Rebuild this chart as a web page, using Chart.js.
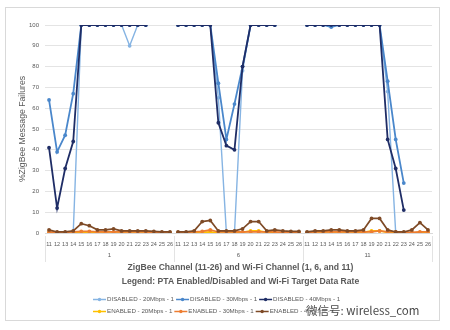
<!DOCTYPE html>
<html>
<head>
<meta charset="utf-8">
<script src="https://cdn.jsdelivr.net/npm/chart.js@4.4.0/dist/chart.umd.min.js"></script>
<style>
  html, body { margin: 0; padding: 0; background: #fff; }
  #wrap { position: relative; width: 450px; height: 330px; }
  #mark { position: absolute; left: 306px; top: 302px; font: 11.5px "Noto Sans CJK SC", sans-serif; color: #4a4a4a; text-shadow: 0 0 2px #fff, 0 0 2px #fff; }
</style>
</head>
<body>
<div id="wrap">
  <canvas id="chart" width="450" height="330"></canvas>
  <div id="mark">微信号: wireless_com</div>
</div>
<script>
// ZigBee channels repeated under each Wi-Fi channel
const channels = ['11','12','13','14','15','16','17','18','19','20','21','22','23','24','25','26'];
const wifiChannels = ['1', '6', '11'];

const disabled20 = [
  0, 0, 0, 0, 100, 100, 100, 100, 100, 100, 90, 100, 100, null, null, null,
  100, 100, 100, 100, 100, 65, 0, 0, 78, 100, 100, 100, 100, null, null, null,
  100, 100, 100, 100, 100, 100, 100, 100, 100, 100, 68, 0, 0, null, null, null
];
const disabled30 = [
  64, 39, 47, 67, 100, 100, 100, 100, 100, 100, 100, 100, 100, null, null, null,
  100, 100, 100, 100, 100, 72, 45, 62, 80, 100, 100, 100, 100, null, null, null,
  100, 100, 100, 99, 100, 100, 100, 100, 100, 100, 73, 45, 24, null, null, null
];
const disabled40 = [
  41, 12, 31, 44, 100, 100, 100, 100, 100, 100, 100, 100, 100, null, null, null,
  100, 100, 100, 100, 100, 53, 42, 40, 80, 100, 100, 100, 100, null, null, null,
  100, 100, 100, 100, 100, 100, 100, 100, 100, 100, 45, 31, 11, null, null, null
];
const enabled20 = [
  0, 0, 0, 0, 0.3, 0.3, 0, 0, 0, 0, 0, 0, 0, 0, 0, 0,
  0, 0, 0, 0.3, 0.5, 0, 0, 0, 0.3, 1, 1, 0.3, 0, 0, 0, 0,
  0, 0, 0, 0, 0, 0, 0, 0.3, 1, 1, 0.3, 0, 0, 0, 0.3, 0.3
];
const enabled30 = [
  0.5, 0.3, 0.3, 0.5, 0.8, 0.8, 0.5, 0.5, 0.5, 0.5, 0.5, 0.5, 0.5, 0.3, 0.3, 0.3,
  0.3, 0.3, 0.5, 0.8, 1.5, 0.5, 0.5, 0.5, 0.5, 0.5, 0.5, 0.5, 0.5, 0.3, 0.3, 0.3,
  0.3, 0.5, 0.5, 0.5, 0.5, 0.5, 0.5, 0.5, 0.5, 1, 0.5, 0.5, 0.3, 0.3, 0.5, 0.5
];
const enabled40 = [
  1.5, 0.5, 0.5, 1, 4.5, 3.5, 1.5, 1.5, 2, 1, 1, 1, 1, 0.8, 0.5, 0.5,
  0.5, 0.5, 1, 5.5, 6, 1, 1, 1, 2, 5.5, 5.5, 1, 1.5, 1, 0.8, 0.8,
  0.5, 1, 1, 1.5, 1.5, 1, 1, 1.5, 7, 7, 1.5, 0.5, 0.5, 1.5, 5, 1.5
];

const labels = wifiChannels.flatMap(() => channels);

const series = [
  { label: 'DISABLED - 20Mbps - 1', data: disabled20, color: '#86b4e3', width: 1.4 },
  { label: 'DISABLED - 30Mbps - 1', data: disabled30, color: '#4a87cb', width: 1.8 },
  { label: 'DISABLED - 40Mbps - 1', data: disabled40, color: '#1f2d66', width: 1.8 },
  { label: 'ENABLED - 20Mbps - 1', data: enabled20, color: '#ffc000', width: 1.7 },
  { label: 'ENABLED - 30Mbps - 1', data: enabled30, color: '#ed7d31', width: 1.7 },
  { label: 'ENABLED - 40Mbps - 1', data: enabled40, color: '#7e4a26', width: 1.7 }
];

const FONT = '"Liberation Sans", Arial, sans-serif';
const TEXT = '#595959';

// lines stop at the end of each Wi-Fi channel group
const groupBreak = ctx => (ctx.p0DataIndex % channels.length === channels.length - 1 ? 'rgba(0,0,0,0)' : undefined);

const decor = {
  id: 'decor',
  afterDraw(chart) {
    const { ctx, scales: { x } } = chart;
    ctx.save();

    // outer frame
    ctx.strokeStyle = '#d9d9d9';
    ctx.lineWidth = 1;
    ctx.strokeRect(5.5, 7.5, 434, 313);

    // group separators and Wi-Fi channel labels
    const step = x.width / labels.length;
    ctx.strokeStyle = '#e3e3e3';
    for (let g = 0; g <= wifiChannels.length; g++) {
      const px = Math.round(x.left + g * channels.length * step) + 0.5;
      ctx.beginPath();
      ctx.moveTo(px, 236);
      ctx.lineTo(px, 262);
      ctx.stroke();
    }
    ctx.fillStyle = TEXT;
    ctx.font = '6px ' + FONT;
    ctx.textAlign = 'center';
    ctx.textBaseline = 'middle';
    wifiChannels.forEach((w, g) => {
      const cx = x.left + (g + 0.5) * channels.length * step;
      ctx.fillText(w, cx, 255);
    });

    // axis title
    ctx.font = 'bold 8.6px ' + FONT;
    ctx.fillStyle = '#595959';
    const tx = (x.left + x.right) / 2 + 2;
    ctx.fillText('ZigBee Channel (11-26) and Wi-Fi Channel (1, 6, and 11)', tx, 268);
    ctx.fillText('Legend: PTA Enabled/Disabled and Wi-Fi Target Data Rate', tx, 282);

    // legend, two rows of three
    ctx.font = '6.2px ' + FONT;
    ctx.textAlign = 'left';
    const rowY = [299.5, 311.5];
    let lx = 93;
    chart.data.datasets.forEach((ds, i) => {
      if (i % 3 === 0) lx = 93;
      const y = rowY[Math.floor(i / 3)];
      ctx.strokeStyle = ds.borderColor;
      ctx.lineWidth = 1.5;
      ctx.beginPath();
      ctx.moveTo(lx, y);
      ctx.lineTo(lx + 13, y);
      ctx.stroke();
      ctx.fillStyle = ds.borderColor;
      ctx.beginPath();
      ctx.arc(lx + 6.5, y, 1.7, 0, Math.PI * 2);
      ctx.fill();
      ctx.fillStyle = TEXT;
      ctx.fillText(ds.label, lx + 14, y);
      lx += 14 + ctx.measureText(ds.label).width + 2;
    });
    ctx.restore();
  }
};

new Chart(document.getElementById('chart'), {
  type: 'line',
  data: {
    labels: labels,
    datasets: series.map((s, i) => ({
      label: s.label,
      data: s.data,
      borderColor: s.color,
      backgroundColor: s.color,
      borderWidth: s.width,
      pointRadius: 1.9,
      pointBorderWidth: 0,
      pointHoverRadius: 2,
      tension: 0,
      spanGaps: false,
      order: series.length - i,
      segment: { borderColor: groupBreak }
    }))
  },
  options: {
    responsive: false,
    animation: false,
    layout: { padding: { left: 5, right: 18, top: 25, bottom: 0 } },
    plugins: {
      legend: { display: false },
      tooltip: { enabled: false }
    },
    scales: {
      x: {
        offset: true,
        grid: { display: false },
        border: { display: true, color: '#d9d9d9' },
        ticks: {
          autoSkip: false,
          maxRotation: 0,
          minRotation: 0,
          padding: 0,
          color: TEXT,
          font: { family: FONT, size: 5.5 }
        },
        afterFit(scale) { scale.height = 97; }
      },
      y: {
        min: 0,
        max: 100,
        grid: { color: '#e4e4e4', drawTicks: false },
        border: { display: false },
        ticks: {
          stepSize: 10,
          padding: 6,
          color: TEXT,
          font: { family: FONT, size: 6 }
        },
        title: {
          display: true,
          text: '%ZigBee Message Failures',
          color: TEXT,
          padding: { top: 12, bottom: 0 },
          font: { family: FONT, size: 8.7 }
        },
        afterFit(scale) { scale.width = 40; }
      }
    }
  },
  plugins: [decor]
});
</script>
</body>
</html>
